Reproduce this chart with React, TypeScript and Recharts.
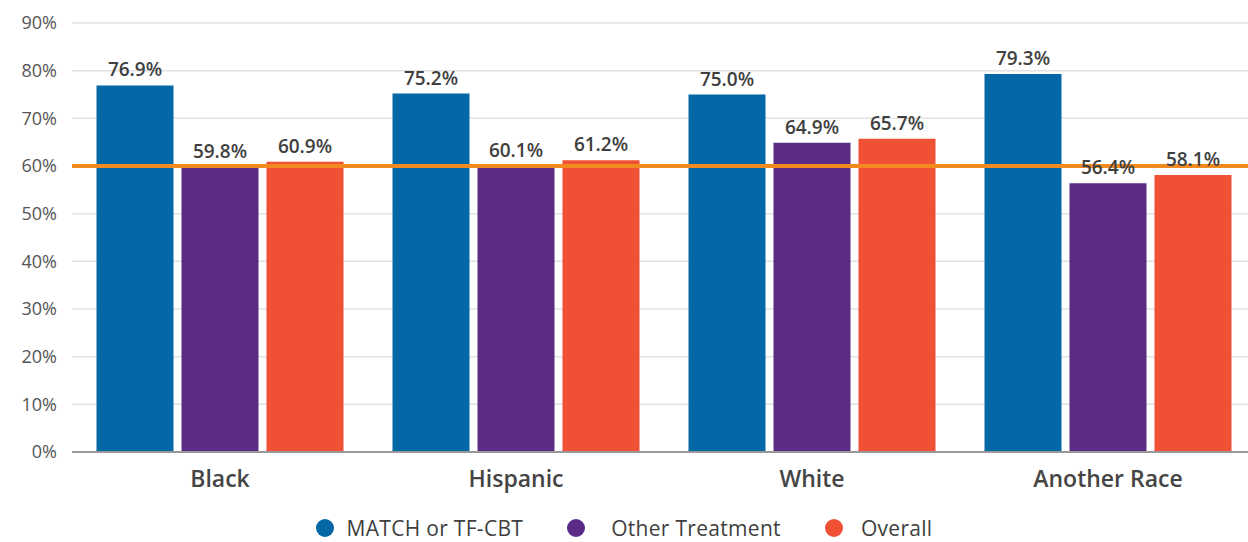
import { BarChart, Bar, XAxis, YAxis, CartesianGrid, Legend, LabelList, ReferenceLine } from "recharts";

const categories = ["Black", "Hispanic", "White", "Another Race"];
const matchValues = [76.9, 75.2, 75.0, 79.3];
const otherValues = [59.8, 60.1, 64.9, 56.4];
const overallValues = [60.9, 61.2, 65.7, 58.1];
const yTicks = [0, 10, 20, 30, 40, 50, 60, 70, 80, 90];
const benchmark = 60;

const seriesNames = ["MATCH or TF-CBT", "Other Treatment", "Overall"];
const seriesColors = ["#0467a6", "#5b2c86", "#f05134"];

const data = categories.map((name, i) => ({
    name,
    match: matchValues[i],
    other: otherValues[i],
    overall: overallValues[i],
}));

const FONT = "'Open Sans', sans-serif";
const TEXT = "#404040";

const pct = (v: any) => `${Number(v).toFixed(1)}%`;

// legend row drawn by hand so the dot/label spacing can be tuned per item
function LegendRow() {
    const gaps = [13, 26, 18];
    return (
        <div style={{ display: "flex", justifyContent: "center", alignItems: "center", fontFamily: FONT, fontSize: 21, color: TEXT, lineHeight: "24px", letterSpacing: 0.3, paddingLeft: 0 }}>
            {seriesNames.map((n, i) => (
                <div key={n} style={{ display: "flex", alignItems: "center", marginRight: i < 2 ? 44 : 0 }}>
                    <span style={{ width: 18, height: 18, borderRadius: 9, background: seriesColors[i], marginRight: gaps[i] }} />
                    <span>{n}</span>
                </div>
            ))}
        </div>
    );
}

export default function App() {
    const labelStyle = { fontFamily: FONT, fontSize: 19, fontWeight: 600, fill: TEXT };
    return (
        <div style={{ position: "absolute", left: 0, top: 0, width: 1248, height: 542, overflow: "hidden", background: "#fff" }}>
            <BarChart
                width={1260}
                height={542}
                data={data}
                margin={{ top: 23, right: 4, left: 0, bottom: 30 }}
                barGap={8}
                barCategoryGap={24.5}
            >
                <CartesianGrid vertical={false} stroke="#e2e2e2" strokeWidth={1.5} />
                <XAxis
                    dataKey="name"
                    height={60}
                    axisLine={{ stroke: "#999", strokeWidth: 2 }}
                    tickLine={false}
                    tickMargin={13}
                    tick={{ fontFamily: FONT, fontSize: 23, fontWeight: 600, fill: "#454545" }}
                    interval={0}
                />
                <YAxis
                    width={72}
                    domain={[0, 90]}
                    ticks={yTicks}
                    axisLine={false}
                    tickLine={false}
                    tickMargin={9}
                    tickFormatter={v => `${v}%`}
                    tick={{ fontFamily: FONT, fontSize: 18, fill: "#555" }}
                />
                <Bar dataKey="match" name={seriesNames[0]} fill={seriesColors[0]} isAnimationActive={false}>
                    <LabelList dataKey="match" position="top" offset={9} formatter={pct} style={labelStyle} />
                </Bar>
                <Bar dataKey="other" name={seriesNames[1]} fill={seriesColors[1]} isAnimationActive={false}>
                    <LabelList dataKey="other" position="top" offset={9} formatter={pct} style={labelStyle} />
                </Bar>
                <Bar dataKey="overall" name={seriesNames[2]} fill={seriesColors[2]} isAnimationActive={false}>
                    <LabelList dataKey="overall" position="top" offset={9} formatter={pct} style={labelStyle} />
                </Bar>
                <ReferenceLine y={benchmark} stroke="#f38a20" strokeWidth={4} />
                <Legend
                    verticalAlign="middle"
                    content={<LegendRow />}
                    wrapperStyle={{ position: "absolute", top: 516, left: 0, width: 1248, height: 24 }}
                />
            </BarChart>
        </div>
    );
}
